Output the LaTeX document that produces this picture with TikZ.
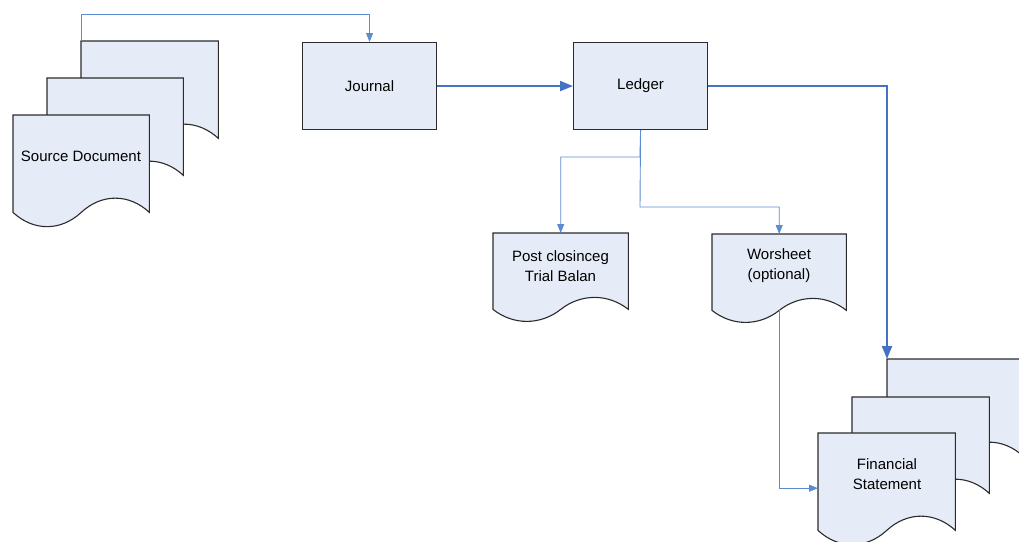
\documentclass[tikz,border=0pt]{standalone}
\usepackage{fontspec}
\setmainfont{Liberation Sans}
\usetikzlibrary{calc,arrows.meta}
\definecolor{docfill}{HTML}{E6ECF7}
\definecolor{thinblue}{HTML}{5B8BD0}
\definecolor{thickblue}{HTML}{4472C4}
\definecolor{outl}{HTML}{2B2B2B}
\tikzset{
  docbox/.style={rectangle, draw=none, inner sep=0pt, anchor=north west},
  procbox/.style={rectangle, draw=outl, fill=docfill, line width=1.1pt, inner sep=0pt, anchor=north west, minimum width=134pt, minimum height=87pt, font=\fontsize{15}{20}\selectfont},
  docline/.style={draw=outl, fill=docfill, line width=1.1pt},
  txt/.style={align=center, font=\fontsize{15}{20}\selectfont, inner sep=0pt},
  thinarrow/.style={draw=thinblue, line width=0.9pt, -{Triangle[length=9pt,width=7pt]}},
  thickarrow/.style={draw=thickblue, line width=2pt, -{Triangle[length=13pt,width=10pt]}}
}
\newcommand\docpath[2]{%
  \draw[docline] (#1.south west) -- (#1.north west) -- (#1.north east) -- (#1.south east)
    .. controls ($(#1.south east)!0.15!(#1.south west)+(0,-#2)$) and ($(#1.south east)!0.35!(#1.south west)+(0,-#2)$) .. ($(#1.south east)!0.5!(#1.south west)$)
    .. controls ($(#1.south east)!0.65!(#1.south west)+(0,#2)$) and ($(#1.south east)!0.85!(#1.south west)+(0,#2)$) .. (#1.south west) -- cycle;}
\begin{document}
\begin{tikzpicture}[x=1pt,y=-1pt]
\useasboundingbox (0,0) rectangle (1019,541);
\clip (0,0) rectangle (1019,541);
% source document stack
\node[docbox, minimum width=137pt, minimum height=97pt] (srcC) at (81,41) {};
\node[docbox, minimum width=136pt, minimum height=97pt] (srcB) at (47,78) {};
\node[docbox, minimum width=136pt, minimum height=97pt] (srcA) at (13,115) {};
\docpath{srcC}{19}
\docpath{srcB}{19}
\docpath{srcA}{19}
\node[txt] (srctxt) at (81,156) {Source Document};
% process boxes
\node[procbox] (journal) at (302,42) {Journal};
\node[procbox] (ledger) at (573,42) {Ledger};
% post closing and worksheet
\node[docbox, minimum width=135pt, minimum height=76pt] (post) at (493,233) {};
\node[docbox, minimum width=134pt, minimum height=76pt] (work) at (712,234) {};
\docpath{post}{16}
\docpath{work}{16}
\node[txt] (posttxt) at (560.5,266) {Post closinceg\\Trial Balan};
\node[txt] (worktxt) at (779,265.5) {Worsheet\\(optional)};
% financial statement stack
\node[docbox, minimum width=136pt, minimum height=97pt] (fsC) at (887,359) {};
\node[docbox, minimum width=137pt, minimum height=96pt] (fsB) at (852,397) {};
\node[docbox, minimum width=137pt, minimum height=97pt] (fsA) at (818,433) {};
\docpath{fsC}{19}
\docpath{fsB}{19}
\docpath{fsA}{19}
\node[txt] (fstxt) at (887,474.5) {Financial\\Statement};
% connectors
\coordinate (topturn) at (81,14);
\draw[thinarrow] (srcC.north west) -- (topturn) -| (journal.north);
\draw[thickarrow] (journal.east) -- (ledger.west);
\draw[thickarrow] (ledger.east) -| (fsC.north west);
\coordinate (split1) at (640,157);
\coordinate (split2) at (640,207);
\draw[thinarrow] (ledger.south) -- (split1) -| (post.north);
\draw[thinarrow] (ledger.south) -- (split2) -| (work.north);
\draw[thinarrow] (work.south) |- ([yshift=-6.5pt]fsA.west);
\end{tikzpicture}
\end{document}
